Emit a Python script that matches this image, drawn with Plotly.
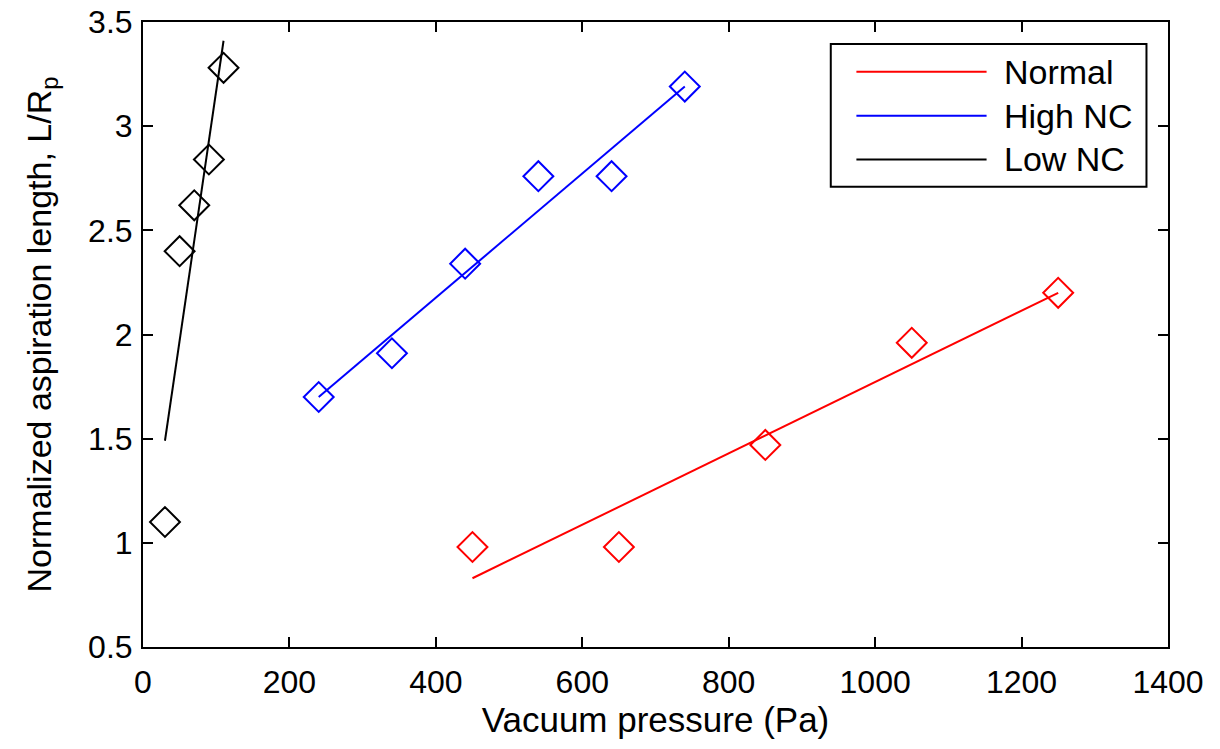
import plotly.graph_objects as go

# ---- data ----
normal_x = [450, 650, 850, 1050, 1250]
normal_y = [0.98, 0.98, 1.47, 1.96, 2.20]
normal_fit_x = [450, 1250]
normal_fit_y = [0.83, 2.20]

high_x = [240, 340, 440, 540, 640, 740]
high_y = [1.70, 1.91, 2.34, 2.76, 2.76, 3.19]
high_fit_x = [240, 740]
high_fit_y = [1.70, 3.19]

low_x = [30, 50, 70, 90, 110]
low_y = [1.10, 2.40, 2.62, 2.84, 3.28]
low_fit_x = [30, 110]
low_fit_y = [1.49, 3.41]

series_names = ["Normal", "High NC", "Low NC"]
series_colors = ["#ff0000", "#0000ff", "#000000"]

x_ticks = [0, 200, 400, 600, 800, 1000, 1200, 1400]
y_ticks = [0.5, 1, 1.5, 2, 2.5, 3, 3.5]

FONT = "Liberation Sans, Arial, sans-serif"

fig = go.Figure()

pts = [(normal_x, normal_y), (high_x, high_y), (low_x, low_y)]
fits = [(normal_fit_x, normal_fit_y), (high_fit_x, high_fit_y), (low_fit_x, low_fit_y)]

for (fx, fy), name, col in zip(fits, series_names, series_colors):
    fig.add_trace(go.Scatter(x=fx, y=fy, mode="lines", name=name,
                             line=dict(color=col, width=2), showlegend=False))
for (px, py), name, col in zip(pts, series_names, series_colors):
    fig.add_trace(go.Scatter(x=px, y=py, mode="markers", name=name + " data",
                             marker=dict(symbol="diamond-open", size=23,
                                         color=col, line=dict(color=col, width=2)),
                             showlegend=False))

# custom legend (MATLAB-style long line samples)
shapes = [dict(type="rect", xref="paper", yref="paper", x0=0.671, x1=0.979,
               y0=0.7365, y1=0.965, line=dict(color="black", width=2),
               fillcolor="white", layer="above")]
annotations = []
row_y = [0.9205, 0.850, 0.780]
for name, col, ry in zip(series_names, series_colors, row_y):
    shapes.append(dict(type="line", xref="paper", yref="paper", x0=0.696, x1=0.823,
                       y0=ry, y1=ry, line=dict(color=col, width=2), layer="above"))
    annotations.append(dict(xref="paper", yref="paper", x=0.838, y=ry, text=name,
                            showarrow=False, xanchor="left", yanchor="middle",
                            font=dict(family=FONT, size=34, color="black")))

fig.update_layout(
    width=1220, height=749,
    margin=dict(l=143, r=52, t=22, b=102),
    paper_bgcolor="white", plot_bgcolor="white",
    font=dict(family=FONT, size=32, color="black"),
    showlegend=False,
    shapes=shapes, annotations=annotations,
    xaxis=dict(range=[0, 1400], tickvals=x_ticks, ticktext=[str(v) for v in x_ticks],
               automargin=False,
               showgrid=False, zeroline=False, showline=True, linecolor="black",
               linewidth=2, mirror="ticks", ticks="inside", ticklen=10, tickwidth=2,
               tickcolor="black", tickfont=dict(size=32), ticklabelstandoff=6,
               title=dict(text="Vacuum pressure (Pa)", font=dict(size=35), standoff=4)),
    yaxis=dict(range=[0.5, 3.5], tickvals=y_ticks, ticktext=[str(v) for v in y_ticks],
               automargin=False,
               showgrid=False, zeroline=False, showline=True, linecolor="black",
               linewidth=2, mirror="ticks", ticks="inside", ticklen=10, tickwidth=2,
               tickcolor="black", tickfont=dict(size=32), ticklabelstandoff=2,
               title=dict(text="Normalized aspiration length, L/R<sub>p</sub>",
                          font=dict(size=34), standoff=26)),
)

fig.write_html("out.html")
